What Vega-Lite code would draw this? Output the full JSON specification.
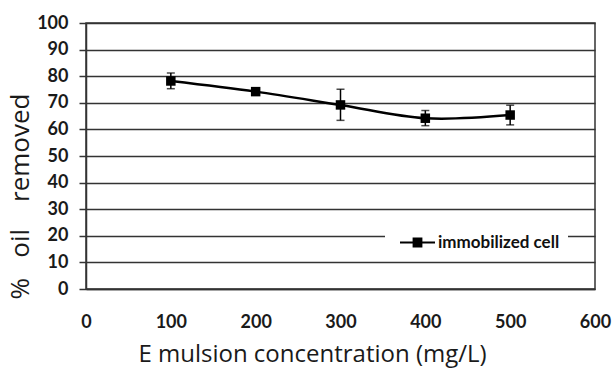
{
  "$schema": "https://vega.github.io/schema/vega-lite/v6.json",
  "width": 509,
  "height": 266,
  "autosize": "none",
  "padding": {"left": 86, "top": 23, "right": 17, "bottom": 79},
  "background": "white",
  "config": {
    "view": {"stroke": "#333333", "strokeWidth": 1.5},
    "font": "Lato",
    "axisY": {
      "values": [0, 10, 20, 30, 40, 50, 60, 70, 80, 90, 100],
      "labelOverlap": false,
      "grid": true,
      "gridColor": "#333333",
      "gridWidth": 1.5,
      "gridOpacity": 1,
      "tickColor": "#333333",
      "tickSize": 7,
      "tickWidth": 1.5,
      "domainColor": "#333333",
      "domainWidth": 1.5,
      "labelFont": "Lato",
      "labelFontWeight": "bold",
      "labelFontSize": 18,
      "labelColor": "#1a1a1a",
      "labelPadding": 11,
      "titleFont": "Open Sans",
      "titleFontWeight": "normal",
      "titleFontSize": 26,
      "titleColor": "#1a1a1a",
      "titleAngle": 270,
      "titleX": -66,
      "titleY": 173,
      "titleAlign": "center",
      "titleBaseline": "middle"
    }
  },
  "data": {
    "values": [
      {"conc": 100, "pct": 78.2, "lo": 75.3, "hi": 81.2, "series": "immobilized cell"},
      {"conc": 200, "pct": 74.2, "lo": 73.2, "hi": 75.2, "series": "immobilized cell"},
      {"conc": 300, "pct": 69.2, "lo": 63.4, "hi": 75.1, "series": "immobilized cell"},
      {"conc": 400, "pct": 64.2, "lo": 61.4, "hi": 67.1, "series": "immobilized cell"},
      {"conc": 500, "pct": 65.4, "lo": 61.7, "hi": 69.1, "series": "immobilized cell"}
    ]
  },
  "encoding": {
    "x": {
      "field": "conc",
      "type": "quantitative",
      "scale": {"domain": [0, 600], "nice": false},
      "axis": {
        "values": [0, 100, 200, 300, 400, 500, 600],
        "labelOverlap": false,
        "labelFlush": false,
        "grid": false,
        "ticks": false,
        "tickSize": 0,
        "domain": true,
        "domainColor": "#333333",
        "domainWidth": 1.5,
        "labelFont": "Lato",
        "labelFontWeight": "bold",
        "labelFontSize": 18,
        "labelColor": "#1a1a1a",
        "labelPadding": 24,
        "title": "E mulsion concentration (mg/L)",
        "titleFont": "Open Sans",
        "titleFontWeight": "normal",
        "titleFontSize": 24,
        "titleColor": "#1a1a1a",
        "titleX": 226,
        "titleY": 72,
        "titleAlign": "center",
        "titleBaseline": "alphabetic"
      }
    },
    "y": {
      "field": "pct",
      "type": "quantitative",
      "scale": {"domain": [0, 100], "nice": false},
      "axis": {
        "values": [0, 10, 20, 30, 40, 50, 60, 70, 80, 90, 100],
        "title": "%\u00a0\u00a0 oil\u00a0\u00a0\u00a0 removed"
      }
    }
  },
  "layer": [
    {
      "mark": {"type": "line", "interpolate": "catmull-rom", "color": "black", "strokeWidth": 2.5}
    },
    {
      "mark": {"type": "rule", "color": "black", "strokeWidth": 1.5},
      "encoding": {
        "y": {"field": "lo", "type": "quantitative"},
        "y2": {"field": "hi"}
      }
    },
    {
      "mark": {"type": "tick", "color": "black", "thickness": 1.5, "size": 8, "orient": "horizontal"},
      "encoding": {"y": {"field": "lo", "type": "quantitative"}}
    },
    {
      "mark": {"type": "tick", "color": "black", "thickness": 1.5, "size": 8, "orient": "horizontal"},
      "encoding": {"y": {"field": "hi", "type": "quantitative"}}
    },
    {
      "mark": {"type": "point", "shape": "square", "filled": true, "size": 90, "opacity": 1},
      "encoding": {
        "color": {
          "field": "series",
          "type": "nominal",
          "scale": {"range": ["black"]},
          "legend": {
            "title": null,
            "orient": "none",
            "legendX": 299,
            "legendY": 194,
            "fillColor": "white",
            "padding": 8,
            "symbolOffset": 7,
            "symbolType": "M-1,-0.06H1V0.06H-1Z M-0.28,-0.28H0.28V0.28H-0.28Z",
            "symbolSize": 1225,
            "symbolFillColor": "black",
            "symbolStrokeWidth": 0,
            "symbolOpacity": 1,
            "labelFont": "Lato",
            "labelFontWeight": "bold",
            "labelFontSize": 17,
            "labelOffset": 3,
            "labelColor": "#111111"
          }
        }
      }
    }
  ]
}
